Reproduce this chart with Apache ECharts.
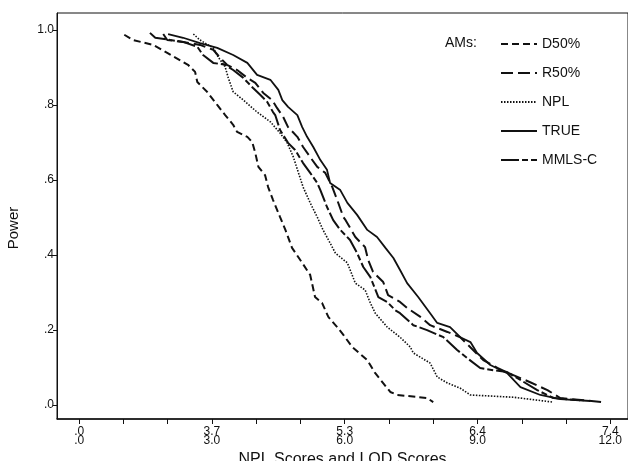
<!DOCTYPE html>
<html>
<head>
<meta charset="utf-8">
<script src="https://cdn.jsdelivr.net/npm/echarts@6/dist/echarts.min.js"></script>
<style>
html,body{margin:0;padding:0;background:#fff;}
#chart{width:628px;height:461px;}
</style>
</head>
<body>
<div id="chart"></div>
<script>
// x = LOD score, y = power
const seriesNames = ['D50%', 'R50%', 'NPL', 'TRUE', 'MMLS-C'];

const d50 = [[1.02,0.987],[1.22,0.973],[1.67,0.96],[1.99,0.939],[2.46,0.907],[2.62,0.888],[2.67,0.861],[2.89,0.835],[3.12,0.80],[3.30,0.773],[3.48,0.747],[3.57,0.728],[3.80,0.715],[3.91,0.701],[3.98,0.672],[4.05,0.635],[4.20,0.613],[4.27,0.581],[4.38,0.547],[4.54,0.501],[4.66,0.467],[4.81,0.419],[5.04,0.379],[5.22,0.347],[5.33,0.288],[5.49,0.272],[5.63,0.235],[5.83,0.208],[5.97,0.187],[6.17,0.155],[6.51,0.12],[6.69,0.085],[7.03,0.035],[7.19,0.027],[7.86,0.019],[8.0,0.008]];

const r50 = [[1.90,0.989],[1.99,0.973],[2.35,0.968],[2.73,0.96],[3.03,0.947],[3.19,0.925],[3.34,0.907],[3.57,0.893],[3.80,0.872],[3.98,0.859],[4.16,0.832],[4.36,0.813],[4.47,0.792],[4.61,0.768],[4.72,0.741],[4.93,0.715],[5.06,0.688],[5.22,0.661],[5.38,0.635],[5.56,0.619],[5.72,0.581],[5.83,0.547],[5.97,0.501],[6.02,0.493],[6.24,0.448],[6.46,0.421],[6.53,0.387],[6.64,0.355],[6.87,0.328],[6.98,0.293],[7.25,0.275],[7.41,0.259],[7.71,0.235],[7.93,0.213],[8.32,0.195],[8.61,0.181],[8.90,0.147],[9.13,0.12],[9.45,0.099],[9.81,0.08],[10.19,0.061],[10.58,0.04],[10.87,0.019],[11.84,0.008]];

const npl = [[2.58,0.989],[2.73,0.973],[3.03,0.952],[3.14,0.928],[3.30,0.901],[3.37,0.872],[3.48,0.835],[3.71,0.813],[4.02,0.781],[4.32,0.755],[4.54,0.725],[4.70,0.699],[4.84,0.661],[4.95,0.621],[5.06,0.581],[5.22,0.539],[5.38,0.501],[5.51,0.467],[5.67,0.432],[5.79,0.405],[6.06,0.379],[6.24,0.325],[6.46,0.307],[6.58,0.272],[6.69,0.245],[6.96,0.208],[7.25,0.181],[7.48,0.155],[7.55,0.139],[7.93,0.112],[8.09,0.075],[8.32,0.059],[8.61,0.045],[8.84,0.027],[9.81,0.021],[10.71,0.008]];

const trueAM = [[2.01,0.989],[2.35,0.979],[2.73,0.965],[3.12,0.952],[3.48,0.933],[3.80,0.912],[4.02,0.88],[4.32,0.867],[4.50,0.84],[4.59,0.813],[4.72,0.795],[4.93,0.773],[5.04,0.741],[5.15,0.715],[5.29,0.688],[5.45,0.653],[5.60,0.627],[5.67,0.592],[5.90,0.573],[6.06,0.539],[6.28,0.507],[6.51,0.467],[6.73,0.448],[6.92,0.419],[7.10,0.392],[7.25,0.36],[7.41,0.325],[7.66,0.288],[7.93,0.245],[8.09,0.219],[8.38,0.208],[8.61,0.181],[8.84,0.168],[8.99,0.139],[9.29,0.107],[9.67,0.085],[9.97,0.048],[10.42,0.027],[10.87,0.016],[11.55,0.011]];

const mmlsc = [[1.60,0.992],[1.72,0.979],[2.06,0.973],[2.35,0.968],[2.67,0.955],[2.80,0.933],[3.03,0.912],[3.30,0.907],[3.48,0.893],[3.71,0.872],[3.93,0.845],[4.09,0.827],[4.25,0.808],[4.38,0.781],[4.43,0.773],[4.54,0.733],[4.72,0.699],[4.88,0.68],[5.06,0.645],[5.22,0.619],[5.38,0.592],[5.45,0.573],[5.60,0.528],[5.74,0.493],[5.90,0.467],[6.12,0.44],[6.28,0.405],[6.42,0.368],[6.58,0.341],[6.76,0.288],[6.96,0.275],[7.14,0.253],[7.25,0.245],[7.55,0.213],[7.86,0.20],[8.23,0.181],[8.54,0.147],[8.77,0.125],[9.06,0.099],[9.36,0.093],[9.67,0.088],[9.97,0.067],[10.35,0.04],[10.71,0.019],[11.32,0.013]];

const xTickValues = [0,1,2,3,4,5,6,7,8,9,10,11,12];
const xLabelValues = [0,3,6,9,12];
const xLabelText = {0:'.0\n.0', 3:'3.7\n3.0', 6:'5.3\n6.0', 9:'6.4\n9.0', 12:'7.4\n12.0'};
const yTickValues = [0,0.2,0.4,0.6,0.8,1.0];
const yLabelText = {0:'.0', 0.2:'.2', 0.4:'.4', 0.6:'.6', 0.8:'.8', 1:'1.0'};

const FONT = '"Liberation Sans", Arial, Helvetica, sans-serif';
const INK = '#111';

const styles = {
  'D50%':   {type:[7,4], width:2},
  'R50%':   {type:[12,5], width:2},
  'NPL':    {type:[1.5,1.5], width:1.6},
  'TRUE':   {type:'solid', width:1.8},
  'MMLS-C': {type:[18,3,6,3], width:2}
};
const dataMap = {'D50%': d50, 'R50%': r50, 'NPL': npl, 'TRUE': trueAM, 'MMLS-C': mmlsc};

const chart = echarts.init(document.getElementById('chart'), null, {renderer:'canvas'});
chart.setOption({
  animation:false,
  backgroundColor:'#fff',
  grid:{left:57, top:13, right:0, bottom:42, outerBoundsMode:'none', containLabel:false,
        show:true, borderColor:INK, borderWidth:1, backgroundColor:'transparent'},
  xAxis:{
    type:'value', min:-0.5, max:12.4,
    name:'NPL Scores and LOD Scores', nameLocation:'middle', nameGap:29,
    nameTextStyle:{fontFamily:FONT, fontSize:16, color:INK},
    axisLine:{show:true, onZero:false, lineStyle:{color:INK, width:1.5}},
    axisTick:{show:true, length:5, customValues:xTickValues, lineStyle:{color:INK}},
    axisLabel:{customValues:xLabelValues, margin:8, fontFamily:FONT, fontSize:12, lineHeight:9, color:INK,
      formatter:function(v){ return xLabelText[Math.round(v)] || ''; }},
    splitLine:{show:false}
  },
  yAxis:{
    type:'value', min:-0.037, max:1.045,
    name:'Power', nameLocation:'middle', nameGap:36,
    nameTextStyle:{fontFamily:FONT, fontSize:15, color:INK, padding:[0,24,0,0]},
    axisLine:{show:true, onZero:false, lineStyle:{color:INK, width:1}},
    axisTick:{show:true, length:4, customValues:yTickValues, lineStyle:{color:INK}},
    axisLabel:{customValues:yTickValues, margin:3, fontFamily:FONT, fontSize:12, color:INK,
      formatter:function(v){ return yLabelText[Math.round(v*10)/10]; }},
    splitLine:{show:false}
  },
  legend:{
    show:true, orient:'vertical', left:495, top:32, itemWidth:36, itemHeight:14, itemGap:15,
    data:seriesNames,
    itemStyle:{opacity:0},
    textStyle:{fontFamily:FONT, fontSize:14, color:INK}
  },
  graphic:[{type:'text', left:445, top:36, style:{text:'AMs:', font:'14px "Liberation Sans", Arial, sans-serif', fill:INK}}],
  series: seriesNames.map(function(n){
    return {
      name:n, type:'line', data:dataMap[n], showSymbol:false, symbol:'none',
      lineStyle:{color:INK, width:styles[n].width, type:styles[n].type},
      itemStyle:{color:INK}
    };
  })
});
</script>
</body>
</html>
